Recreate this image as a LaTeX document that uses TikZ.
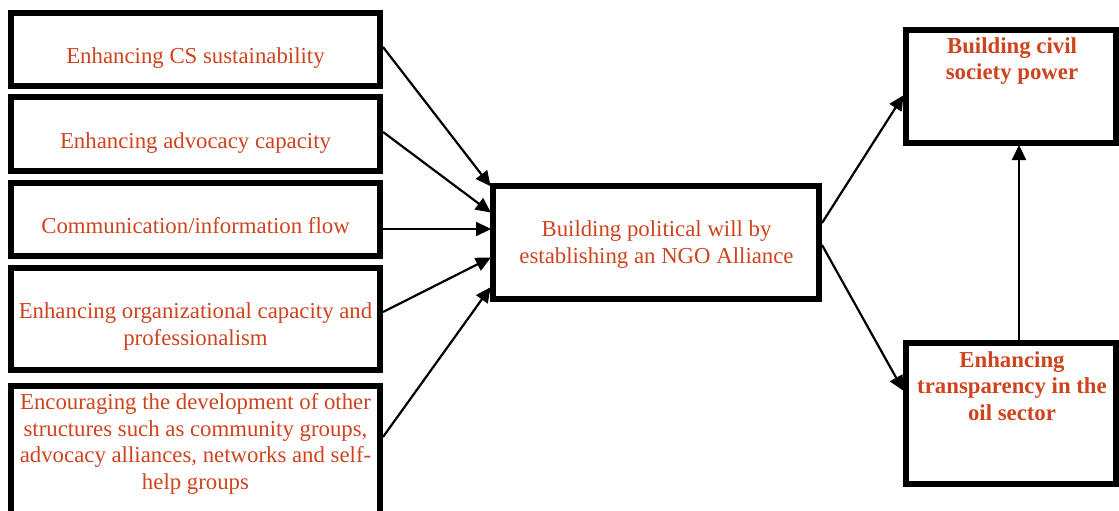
\documentclass[tikz,border=0pt]{standalone}
\usepackage{fontspec}
\setmainfont{Liberation Serif}
\usetikzlibrary{arrows.meta,calc}
\definecolor{txtred}{RGB}{206,68,30}
\tikzset{
  boxline/.style={draw=black, line width=6pt, fill=white, inner sep=0pt},
  lbox/.style={boxline, minimum width=369pt},
  ltext/.style={text=txtred, font=\fontsize{22.8}{26.5}\selectfont, align=center, inner sep=0pt, anchor=base},
  btext/.style={ltext, font=\fontsize{22.8}{26.5}\selectfont\bfseries},
  conn/.style={draw=black, line width=2.2pt, -{Triangle[length=15pt,width=14pt]}, shorten >=-1pt}
}
\begin{document}
\begin{tikzpicture}[x=1pt,y=-1pt]
\useasboundingbox (0,0) rectangle (1119,511);
\clip (0,0) rectangle (1119,511);
% left boxes
\node[lbox, minimum height=73pt] (b1) at (195.5,49.5) {};
\node[lbox, minimum height=74pt] (b2) at (195.5,134) {};
\node[lbox, minimum height=73pt] (b3) at (195.5,219.5) {};
\node[lbox, minimum height=102pt] (b4) at (195.5,319) {};
\node[lbox, minimum height=151pt] (b5) at (195.5,461.5) {};
% centre and right boxes
\node[boxline, minimum width=326pt, minimum height=113pt] (c) at (656,242.5) {};
\node[boxline, minimum width=210pt, minimum height=113pt] (tr) at (1011,86.5) {};
\node[boxline, minimum width=210pt, minimum height=141pt] (br) at (1011,413.5) {};
% texts (anchor base = baseline of the last line)
\node[ltext] (t1) at (195.5,63.3) {Enhancing CS sustainability};
\node[ltext] (t2) at (195.5,148.3) {Enhancing advocacy capacity};
\node[ltext] (t3) at (195.5,233) {Communication/information flow};
\node[ltext] (t4) at (195.5,345) {Enhancing organizational capacity and\\professionalism};
\node[ltext] (t5) at (195.5,489) {Encouraging the development of other\\structures such as community groups,\\advocacy alliances, networks and self-\\help groups};
\node[ltext] (tc) at (656.5,263.3) {Building political will by\\establishing an NGO Alliance};
\node[btext] (ttr) at (1012,80) {Building civil\\society power};
\node[btext] (tbr) at (1012,420) {Enhancing\\transparency in the\\oil sector};
% connectors
\draw[conn] ($(b1.east)+(0,-2.5)$) -- ($(c.west)+(0,-57)$);
\draw[conn] ($(b2.east)+(0,-2)$) -- ($(c.west)+(0,-30.5)$);
\draw[conn] ($(b3.east)+(0,9.5)$) -- ($(c.west)+(0,-13.5)$);
\draw[conn] ($(b4.east)+(0,-7)$) -- ($(c.west)+(0,15.5)$);
\draw[conn] ($(b5.east)+(0,-24.5)$) -- ($(c.west)+(0,45.5)$);
\draw[conn] ($(c.east)+(0,-19.5)$) -- ($(tr.west)+(0,9.5)$);
\draw[conn] ($(c.east)+(0,2.5)$) -- ($(br.west)+(0,-23.5)$);
\draw[conn] ($(br.north)+(8,0)$) -- ($(tr.south)+(8,0)$);
\end{tikzpicture}
\end{document}
